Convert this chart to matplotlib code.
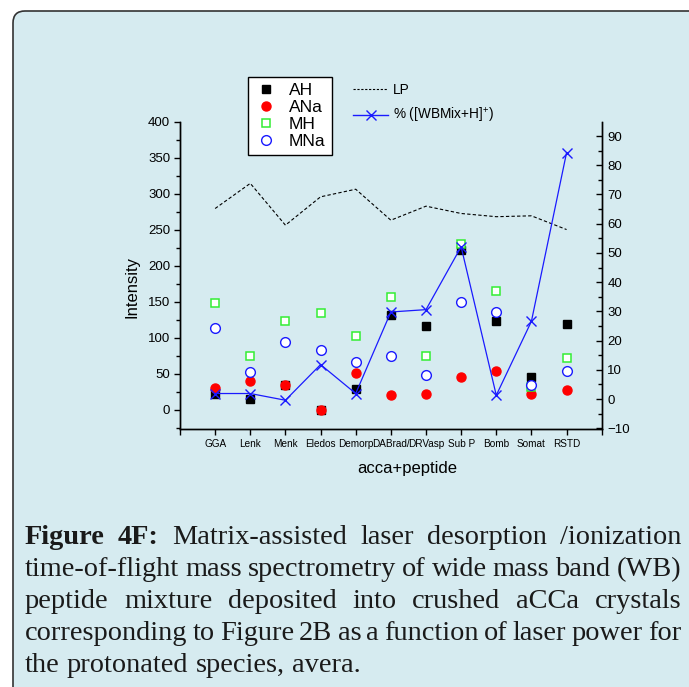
import matplotlib
matplotlib.use("Agg")
import matplotlib.pyplot as plt
import numpy as np
from matplotlib.lines import Line2D
from matplotlib.patches import FancyBboxPatch
from matplotlib.transforms import IdentityTransform
from matplotlib import font_manager
from matplotlib.ticker import MultipleLocator

# ---------------- data ----------------
categories = ["GGA", "Lenk", "Menk", "Eledos", "Demorp", "DABrad/", "DRVasp",
              "Sub P", "Bomb", "Somat", "RSTD"]
AH = [22, 15, 34, 0.4, 29, 132, 117, 222, 124, 46, 119]
ANa = [31, 40, 34, 0.5, 51, 21, 22, 46, 54, 22, 28]
MH = [148, 75, 124, 135, 103, 157, 75, 231, 165, 32, 72]
MNa = [114, 53, 94, 83, 67, 75, 49, 150, 136, 35, 54]
pct_WBMix = [1.9, 1.9, -0.4, 11.8, 1.9, 29.8, 30.6, 52.1, 1.3, 26.6, 84.3]
LP = [65.2, 73.8, 59.5, 69.2, 71.8, 61.2, 66.0, 63.5, 62.4, 62.7, 58.0]

caption_lines = [
    [("Figure", True), ("4F:", True), ("Matrix-assisted", False), ("laser", False),
     ("desorption", False), ("/ionization", False)],
    [(w, False) for w in "time-of-flight mass spectrometry of wide mass band (WB)".split()],
    [(w, False) for w in "peptide mixture deposited into crushed aCCa crystals".split()],
    [(w, False) for w in "corresponding to Figure 2B as a function of laser power for".split()],
    [(w, False) for w in "the protonated species, avera.".split()],
]

# ---------------- style ----------------
W, H = 689, 687
BG = "#d6ebf0"
SANS = "Liberation Sans"
try:
    font_manager.findfont("Liberation Sans Narrow", fallback_to_default=False)
    NARROW = "Liberation Sans Narrow"
    narrow_size = 8
except Exception:
    NARROW = SANS
    narrow_size = 7.2

plt.rcParams["font.family"] = [SANS, "DejaVu Sans"]
plt.rcParams["mathtext.default"] = "regular"

fig = plt.figure(figsize=(W / 100, H / 100), dpi=100)
fig.patch.set_facecolor("white")

# rounded panel
panel = FancyBboxPatch((13, -30), 720, (H - 11) + 30,
                       boxstyle="round,pad=0,rounding_size=12",
                       transform=IdentityTransform(), facecolor=BG,
                       edgecolor="#333333", linewidth=1.2, zorder=-5)
fig.patches.append(panel)


def px(x0, y0, x1, y1):
    return [x0 / W, 1 - y1 / H, (x1 - x0) / W, (y1 - y0) / H]


ax = fig.add_axes(px(180, 122, 601.7, 429))
ax.set_facecolor("none")
ax2 = ax.twinx()
ax2.set_facecolor("none")

x = np.arange(1, len(categories) + 1)

ax.plot(x, AH, ls="none", marker="s", ms=6, color="black", zorder=3)
ax.plot(x, ANa, ls="none", marker="o", ms=6.5, color="#ff0000", zorder=4)
ax.plot(x, MH, ls="none", marker="s", ms=6, mfc="white", mec="#33ee33", mew=1.1, zorder=5)
ax.plot(x, MNa, ls="none", marker="o", ms=7, mfc="white", mec="#1a1aff", mew=1.0, zorder=6)

ax2.plot(x, LP, color="black", lw=0.8, ls=(0, (3, 2)))
ax2.plot(x, pct_WBMix, color="#1a1aff", lw=0.9, marker="x", ms=7, mew=1.0)

ax.set_xlim(0, 12)
ax.set_ylim(-26.5, 400)
ax2.set_ylim(-10.24, 94.8)

ax.set_xticks(np.arange(0, 13))
ax.set_xticklabels([""] + categories + [""], fontfamily=NARROW, fontsize=narrow_size)
ax.set_yticks(np.arange(0, 401, 50))
ax.yaxis.set_minor_locator(MultipleLocator(25))
ax2.set_yticks(np.arange(-10, 91, 10))
ax2.yaxis.set_minor_locator(MultipleLocator(5))

for a in (ax, ax2):
    a.spines["top"].set_visible(False)
    for s in a.spines.values():
        s.set_linewidth(1.0)
        s.set_color("black")

ax.tick_params(axis="y", which="major", direction="out", length=4.5, width=1.0,
               labelsize=9.5, pad=2.5)
ax.tick_params(axis="y", which="minor", direction="out", length=2.8, width=1.0)
ax.tick_params(axis="x", which="major", direction="out", length=4.5, width=1.0, pad=2.5)
ax2.tick_params(axis="y", which="major", direction="in", length=4.5, width=1.0,
                labelsize=9.5, pad=4)
ax2.tick_params(axis="y", which="minor", direction="in", length=2.8, width=1.0)

fig.text(132 / W, 1 - 287 / H, "Intensity", rotation=90, ha="center", va="center",
         fontsize=12)
fig.text(407 / W, 1 - 468 / H, "acca+peptide", ha="center", va="center", fontsize=12)

# legends
h1 = [Line2D([], [], ls="none", marker="s", ms=6, color="black"),
      Line2D([], [], ls="none", marker="o", ms=6.5, color="#ff0000"),
      Line2D([], [], ls="none", marker="s", ms=6, mfc="white", mec="#33ee33", mew=1.1),
      Line2D([], [], ls="none", marker="o", ms=7, mfc="white", mec="#1a1aff", mew=1.0)]
leg1 = fig.legend(h1, ["AH", "ANa", "MH", "MNa"], loc="upper left",
                  bbox_to_anchor=(248 / W, 1 - 77 / H), borderaxespad=0,
                  fontsize=12.5, frameon=True, fancybox=False, edgecolor="black",
                  framealpha=1, borderpad=0.35, handlelength=1.4,
                  handletextpad=0.6, labelspacing=0.1)
leg1.get_frame().set_linewidth(1.0)

h2 = [Line2D([], [], color="black", lw=0.8, ls=(0, (2, 1.5))),
      Line2D([], [], color="#1a1aff", lw=1.0, marker="x", ms=7, mew=1.0)]
leg2 = fig.legend(h2, ["LP", "% ([WBMix+H]$^{+}$)"], loc="upper left",
                  bbox_to_anchor=(353 / W, 1 - 83 / H), borderaxespad=0,
                  fontsize=9.8, frameon=False, borderpad=0, handlelength=2.6,
                  handletextpad=0.35, labelspacing=0.65)

# caption (justified)
renderer = fig.canvas.get_renderer()
SERIF = "Liberation Serif"


def measure(word, bold, size):
    t = fig.text(0, 0, word, fontsize=size, fontfamily=SERIF,
                 fontweight="bold" if bold else "normal")
    w = t.get_window_extent(renderer).width
    t.remove()
    return w


ref_line = caption_lines[-1]
base = 10.0
sp = measure("a b", False, base) - measure("ab", False, base)
wref = sum(measure(w, b, base) for w, b in ref_line) + sp * (len(ref_line) - 1)
size = base * 335.0 / wref

x0, x1 = 25.0, 681.0
baselines = [544, 576, 608, 640, 672]
for li, (line, yb) in enumerate(zip(caption_lines, baselines)):
    widths = [measure(w, b, size) for w, b in line]
    if li < len(caption_lines) - 1:
        gap = (x1 - x0 - sum(widths)) / (len(line) - 1)
    else:
        gap = sp * size / base
    cx = x0
    for (w, b), ww in zip(line, widths):
        fig.text(cx / W, 1 - yb / H, w, fontsize=size, fontfamily=SERIF,
                 fontweight="bold" if b else "normal", va="baseline", ha="left",
                 color="#1a1a1a")
        cx += ww + gap

fig.savefig("out.png", dpi=100, facecolor="white")
